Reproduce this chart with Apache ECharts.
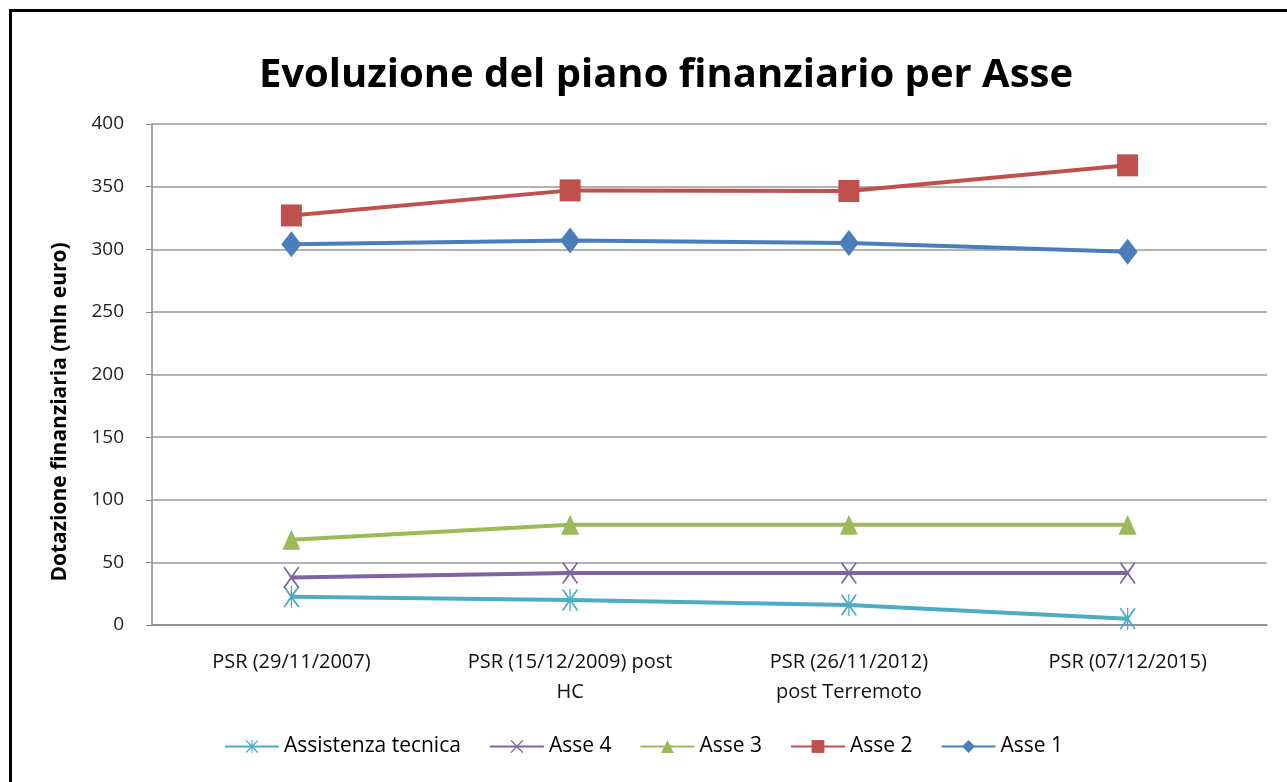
<!DOCTYPE html>
<html>
<head>
<meta charset="utf-8">
<script src="https://cdn.jsdelivr.net/npm/echarts@6/dist/echarts.min.js"></script>
<style>
    html, body { margin: 0; padding: 0; background: #fff; }
    #frame {
        position: absolute; left: 9px; top: 9px; width: 1290px; height: 790px;
        border-top: 3px solid #000; border-left: 3px solid #000;
    }
    #chart { position: absolute; left: 0; top: 0; width: 1287px; height: 782px; }
</style>
</head>
<body>
<div id="frame"></div>
<div id="chart"></div>
<script>
// categorie (versioni del PSR)
var categories = [
    "PSR (29/11/2007)",
    "PSR (15/12/2009) post\nHC",
    "PSR (26/11/2012)\npost Terremoto",
    "PSR (07/12/2015)"
];
var yTicks = [0, 50, 100, 150, 200, 250, 300, 350, 400];

var assistenzaTecnica = [22.5, 20, 16, 5];
var asse4 = [38, 41.5, 41.5, 41.5];
var asse3 = [68, 80, 80, 80];
var asse2 = [327, 347, 346.5, 367];
var asse1 = [304, 307, 305, 298];

var myChart = echarts.init(document.getElementById("chart"));

var xPath = "path://M0,1 L1.5,0 L10,8.5 L18.5,0 L20,1 L11.5,10 L20,19 L18.5,20 L10,11.5 L1.5,20 L0,19 L8.5,10 Z";
var starPath = "path://M0,1 L1.5,0 L10,8.5 L18.5,0 L20,1 L11.5,10 L20,19 L18.5,20 L10,11.5 L1.5,20 L0,19 L8.5,10 Z M9.2,0 L10.8,0 L10.8,20 L9.2,20 Z";

function makeSeries(name, data, color, symbol, size) {
    return {
        name: name,
        type: "line",
        data: data,
        symbol: symbol,
        symbolSize: size,
        lineStyle: { color: color, width: 4 },
        itemStyle: { color: color },
        emphasis: { disabled: true }
    };
}

var option = {
    backgroundColor: "transparent",
    animation: false,
    textStyle: { fontFamily: "Open Sans" },
    title: {
        text: "Evoluzione del piano finanziario per Asse",
        left: 661,
        textAlign: "center",
        top: 51,
        textStyle: { fontSize: 40, fontWeight: "bold", color: "#000", fontFamily: "Open Sans" }
    },
    graphic: [{
        type: "text",
        x: 60,
        y: 412,
        rotation: Math.PI / 2,
        style: {
            text: "Dotazione finanziaria (mln euro)",
            fontSize: 21,
            fontWeight: "bold",
            fontFamily: "Open Sans",
            fill: "#000",
            align: "center",
            verticalAlign: "middle"
        }
    }],
    legend: {
        bottom: 20,
        left: "center",
        itemWidth: 54,
        itemHeight: 16,
        itemGap: 28,
        textStyle: { fontSize: 21, color: "#000" },
        data: ["Assistenza tecnica", "Asse 4", "Asse 3", "Asse 2", "Asse 1"]
    },
    grid: { left: 152, right: 20, top: 124, bottom: 157 },
    xAxis: {
        type: "category",
        data: categories,
        axisLine: { lineStyle: { color: "#888", width: 1.5 } },
        axisTick: { show: false },
        axisLabel: { interval: 0, fontSize: 20, color: "#111", lineHeight: 30, margin: 22 }
    },
    yAxis: {
        type: "value",
        min: yTicks[0],
        max: yTicks[yTicks.length - 1],
        interval: 50,
        axisLine: { show: true, lineStyle: { color: "#888", width: 1.5 } },
        axisTick: { show: true, length: 6, lineStyle: { color: "#888" } },
        axisLabel: { fontSize: 19, color: "#222", margin: 28 },
        splitLine: { lineStyle: { color: "#999", width: 1.5 } }
    },
    series: [
        makeSeries("Assistenza tecnica", assistenzaTecnica, "#4BACC6", starPath, [16, 22]),
        makeSeries("Asse 4", asse4, "#8064A2", xPath, [16, 22]),
        makeSeries("Asse 3", asse3, "#9BBB59", "triangle", [18, 20]),
        makeSeries("Asse 2", asse2, "#C0504D", "rect", [21, 22]),
        makeSeries("Asse 1", asse1, "#4A7EBB", "diamond", [20, 26])
    ]
};

myChart.setOption(option);
</script>
</body>
</html>
